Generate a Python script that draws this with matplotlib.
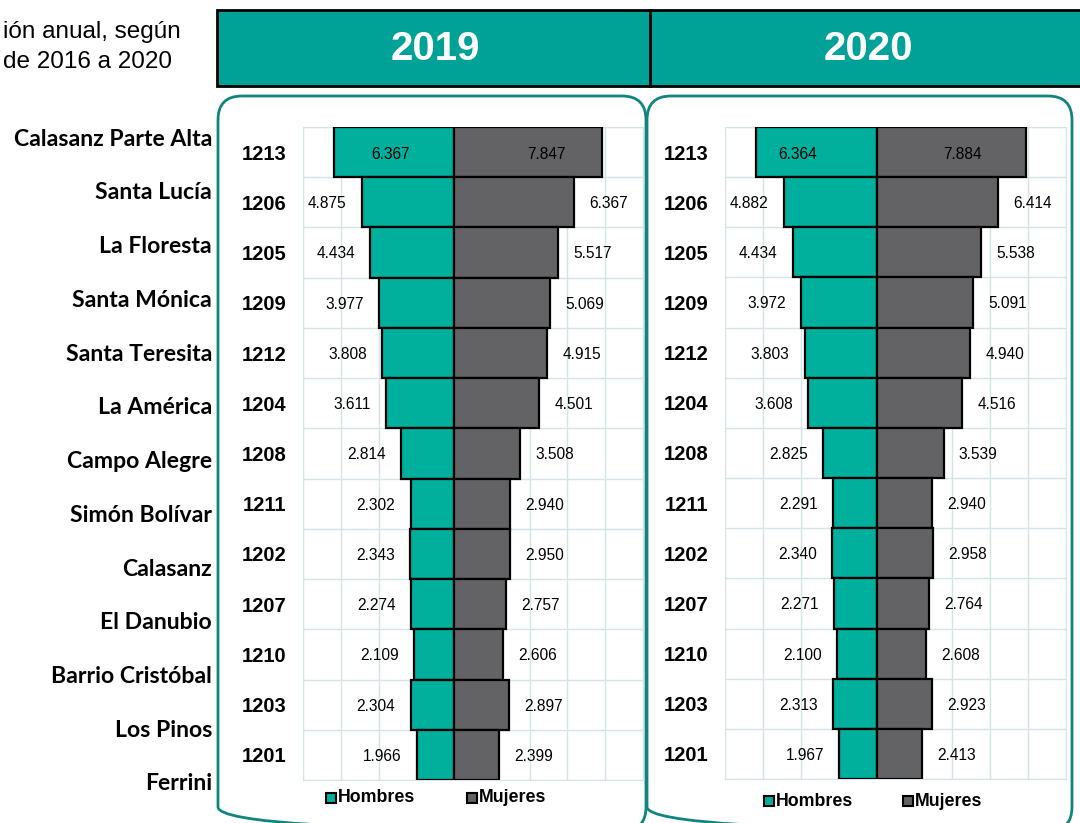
import matplotlib.pyplot as plt
from matplotlib.patches import FancyBboxPatch, Rectangle

# data
barrios = ["Calasanz Parte Alta", "Santa Lucía", "La Floresta", "Santa Mónica", "Santa Teresita",
           "La América", "Campo Alegre", "Simón Bolívar", "Calasanz", "El Danubio",
           "Barrio Cristóbal", "Los Pinos", "Ferrini"]
codigos = ["1213", "1206", "1205", "1209", "1212", "1204", "1208", "1211", "1202", "1207",
           "1210", "1203", "1201"]
hombres_2019 = [6367, 4875, 4434, 3977, 3808, 3611, 2814, 2302, 2343, 2274, 2109, 2304, 1966]
mujeres_2019 = [7847, 6367, 5517, 5069, 4915, 4501, 3508, 2940, 2950, 2757, 2606, 2897, 2399]
hombres_2020 = [6364, 4882, 4434, 3972, 3803, 3608, 2825, 2291, 2340, 2271, 2100, 2313, 1967]
mujeres_2020 = [7884, 6414, 5538, 5091, 4940, 4516, 3539, 2940, 2958, 2764, 2608, 2923, 2413]
anios = ["2019", "2020"]

TEAL = "#00af9c"
GRAY = "#636365"
HEADER = "#00a196"
FRAME = "#11847f"
GRID = "#d5e4e4"

W, H = 1080, 823
fig = plt.figure(figsize=(W / 100, H / 100), dpi=100)

# background layer in pixel coordinates
bg = fig.add_axes([0, 0, 1, 1])
bg.set_xlim(0, W)
bg.set_ylim(H, 0)
bg.axis("off")

bg.text(3, 32, "ión anual, según", fontsize=17.5, family="Liberation Sans", va="center", ha="left")
bg.text(3, 62, "de 2016 a 2020", fontsize=17.5, family="Liberation Sans", va="center", ha="left")

# header band
bg.add_patch(Rectangle((217, 10), 870, 76, facecolor=HEADER, edgecolor="black", lw=2))
bg.plot([650, 650], [10, 86], color="black", lw=2)
bg.text(435, 49, anios[0], color="white", fontsize=29, fontweight="bold",
        family="Liberation Sans", ha="center", va="center")
bg.text(868, 49, anios[1], color="white", fontsize=29, fontweight="bold",
        family="Liberation Sans", ha="center", va="center")

# rounded frames
for x0, x1 in [(218, 646), (647, 1072)]:
    bg.add_patch(FancyBboxPatch((x0, 96), x1 - x0, 735, boxstyle="round,pad=0,rounding_size=24",
                                facecolor="none", edgecolor=FRAME, lw=2))

# neighbourhood names
for i, b in enumerate(barrios):
    bg.text(212, 139 + i * 53.75, b, fontsize=16.6, fontweight="bold", family="Lato",
            ha="right", va="center")


def piramide(rect, hombres, mujeres, dx_top):
    ax = fig.add_axes(rect)
    y = list(range(len(codigos)))
    ax.barh(y, [-v for v in hombres], height=1, color=TEAL, edgecolor="black", lw=1.6, zorder=3)
    ax.barh(y, mujeres, height=1, color=GRAY, edgecolor="black", lw=1.6, zorder=3)
    ax.set_xlim(-8000, 10000)
    ax.set_ylim(len(codigos) - 0.5, -0.5)
    ax.set_xticks(range(-8000, 10001, 2000))
    ax.set_xticklabels([])
    ax.set_yticks(y)
    ax.set_yticklabels(codigos, fontsize=14.5, fontweight="bold", family="Liberation Sans")
    ax.set_yticks([i - 0.5 for i in range(len(codigos) + 1)], minor=True)
    ax.tick_params(which="both", length=0, pad=12)
    ax.grid(True, axis="x", color=GRID, lw=1, zorder=0)
    ax.grid(True, axis="y", which="minor", color=GRID, lw=1, zorder=0)
    for s in ax.spines.values():
        s.set_color(GRID)
    for i, (h, m) in enumerate(zip(hombres, mujeres)):
        th = f"{h:,}".replace(",", ".")
        tm = f"{m:,}".replace(",", ".")
        if i == 0:
            ax.annotate(th, (-h, i), xytext=(dx_top[0], -2), textcoords="offset points",
                        ha="left", va="center", fontsize=11.2, family="Liberation Sans", zorder=4)
            ax.annotate(tm, (m, i), xytext=(-dx_top[1], -2), textcoords="offset points",
                        ha="right", va="center", fontsize=11.2, family="Liberation Sans", zorder=4)
        else:
            ax.annotate(th, (-h, i), xytext=(-11, -1), textcoords="offset points",
                        ha="right", va="center", fontsize=11.2, family="Liberation Sans", zorder=4)
            ax.annotate(tm, (m, i), xytext=(11, -1), textcoords="offset points",
                        ha="left", va="center", fontsize=11.2, family="Liberation Sans", zorder=4)
    return ax


piramide([303 / W, 1 - 780 / H, 340 / W, 653 / H], hombres_2019, mujeres_2019, (27, 26))
piramide([725 / W, 1 - 779 / H, 341 / W, 652 / H], hombres_2020, mujeres_2020, (16, 32))

# legends
for sx, ty, gap in [(326, 798, 141), (764, 801, 139)]:
    bg.add_patch(Rectangle((sx, ty - 5), 10, 10, facecolor=TEAL, edgecolor="black", lw=1.5))
    bg.text(sx + 12, ty, "Hombres", fontsize=12.8, fontweight="bold", family="Liberation Sans",
            ha="left", va="center")
    bg.add_patch(Rectangle((sx + gap, ty - 5), 10, 10, facecolor=GRAY, edgecolor="black", lw=1.5))
    bg.text(sx + gap + 12, ty, "Mujeres", fontsize=12.8, fontweight="bold", family="Liberation Sans",
            ha="left", va="center")

fig.savefig("out.png", dpi=100)
